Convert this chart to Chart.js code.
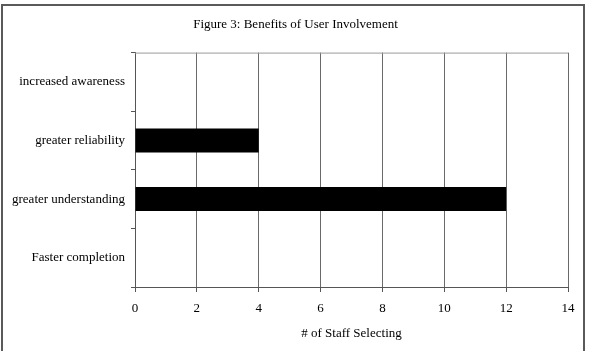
<!DOCTYPE html>
<html>
<head>
<meta charset="utf-8">
<script src="https://cdn.jsdelivr.net/npm/chart.js@4"></script>
<style>
  html, body { margin: 0; padding: 0; background: #fff; }
  #wrap { width: 591px; height: 351px; }
</style>
</head>
<body>
<div id="wrap"><canvas id="grafico" width="591" height="351"></canvas></div>
<script>
// Dados (de cima para baixo)
const categorias = ["increased awareness", "greater reliability", "greater understanding", "Faster completion"];
const valores = [0, 4, 12, 0];
const eixoMin = 0;
const eixoMax = 14;
const passo = 2;

const fonte = { family: "'Liberation Serif', 'Times New Roman', serif", size: 13 };

// Moldura externa + linha superior da área do gráfico
const molduraPlugin = {
  id: "moldura",
  beforeDraw(chart) {
    const ctx = chart.ctx;
    ctx.save();
    ctx.fillStyle = "#fff";
    ctx.fillRect(0, 0, chart.width, chart.height);
    ctx.strokeStyle = "#5a5a5a";
    ctx.lineWidth = 2;
    ctx.strokeRect(2, 5, 582, 360);
    ctx.restore();
  },
  afterDatasetsDraw(chart) {
    const { ctx, chartArea: a } = chart;
    ctx.save();
    ctx.strokeStyle = "#9a9a9a";
    ctx.lineWidth = 1;
    ctx.beginPath();
    ctx.moveTo(a.left, a.top + 0.5);
    ctx.lineTo(a.right, a.top + 0.5);
    ctx.stroke();
    ctx.restore();
  },
};

new Chart(document.getElementById("grafico"), {
  type: "bar",
  data: {
    labels: categorias,
    datasets: [{
      data: valores,
      backgroundColor: "#000",
      borderWidth: 0,
      barPercentage: 0.41,
      categoryPercentage: 1,
    }],
  },
  options: {
    indexAxis: "y",
    responsive: false,
    animation: false,
    layout: { padding: 0 },
    plugins: {
      legend: { display: false },
      tooltip: { enabled: false },
      title: {
        display: true,
        text: "Figure 3: Benefits of User Involvement",
        color: "#000",
        font: { ...fonte, weight: "normal" },
        padding: { top: 17, bottom: 20 },
      },
    },
    scales: {
      x: {
        min: eixoMin,
        max: eixoMax,
        ticks: { stepSize: passo, color: "#000", font: fonte, padding: 9 },
        grid: { color: "#6a6a6a", lineWidth: 1, tickLength: 5, tickColor: "#555" },
        border: { color: "#555", width: 1 },
        title: {
          display: true,
          text: "# of Staff Selecting",
          color: "#000",
          font: fonte,
          padding: { top: 0, bottom: 10 },
        },
        afterFit(scale) { scale.height = 64; },
      },
      y: {
        offset: true,
        ticks: { color: "#000", font: fonte, padding: 6 },
        grid: { drawOnChartArea: false, tickLength: 4, tickColor: "#555", offset: true },
        border: { color: "#555", width: 1 },
        afterFit(scale) { scale.width = 135; },
      },
      // eixo vazio à direita: só reserva a margem, mantendo o título centrado
      margemDireita: {
        type: "linear",
        position: "right",
        ticks: { display: false },
        grid: { display: false },
        border: { display: false },
        afterFit(scale) { scale.width = 23; },
      },
    },
  },
  plugins: [molduraPlugin],
});
</script>
</body>
</html>
